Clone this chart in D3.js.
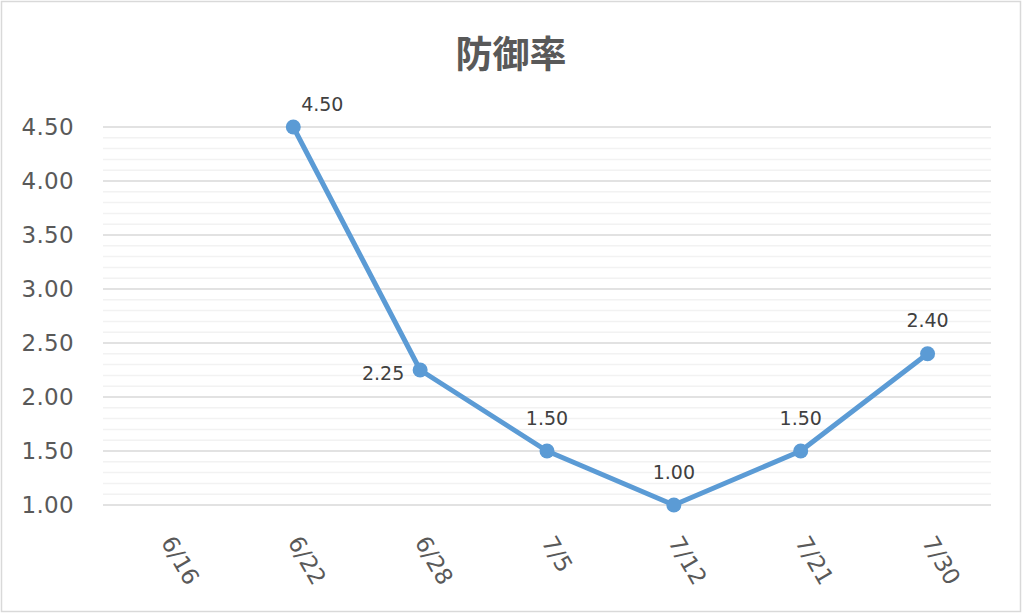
<!DOCTYPE html>
<html>
<head>
<meta charset="utf-8">
<script src="https://cdn.jsdelivr.net/npm/d3@7/dist/d3.min.js"></script>
<style>
  html, body { margin: 0; padding: 0; background: #fff; }
  svg { display: block; }
</style>
</head>
<body>
<svg id="chart" width="1024" height="614"></svg>
<script>
// ---- data ----
const title = "防御率";
const categories = ["6/16", "6/22", "6/28", "7/5", "7/12", "7/21", "7/30"];
const values = [null, 4.50, 2.25, 1.50, 1.00, 1.50, 2.40];
const yTickValues = [1.00, 1.50, 2.00, 2.50, 3.00, 3.50, 4.00, 4.50];
const yDomain = [1.0, 4.5];

// ---- layout ----
const W = 1024, H = 614;
const plot = { left: 103, right: 991, top: 127, bottom: 505 };
const svg = d3.select("#chart");

// chart border
svg.append("rect").attr("x", 1.5).attr("y", 1.5).attr("width", 1019).attr("height", 610)
  .attr("fill", "#fff").attr("stroke", "#d9d9d9").attr("stroke-width", 1.5);

const x = d3.scaleBand().domain(categories).range([plot.left, plot.right]).padding(0);
const y = d3.scaleLinear().domain(yDomain).range([plot.bottom, plot.top]);
const cx = d => x(d) + x.bandwidth() / 2;

// minor gridlines
const minor = y.ticks(35).filter(t => !yTickValues.some(v => Math.abs(v - t) < 1e-9));
svg.append("g").selectAll("line").data(minor).join("line")
  .attr("x1", plot.left).attr("x2", plot.right)
  .attr("y1", d => y(d)).attr("y2", d => y(d))
  .attr("stroke", "#f2f2f2").attr("stroke-width", 1.5);

// major gridlines
svg.append("g").selectAll("line").data(yTickValues).join("line")
  .attr("x1", plot.left).attr("x2", plot.right)
  .attr("y1", d => y(d)).attr("y2", d => y(d))
  .attr("stroke", "#d9d9d9").attr("stroke-width", 1.5);

// y axis labels
const yAxis = d3.axisLeft(y).tickValues(yTickValues).tickFormat(d3.format(".2f")).tickSize(0).tickPadding(0);
const gy = svg.append("g").attr("transform", `translate(74,0)`).call(yAxis);
gy.select(".domain").remove();
gy.selectAll("text")
  .attr("font-family", "DejaVu Sans, sans-serif").attr("font-size", 23)
  .attr("fill", "#595959").attr("letter-spacing", 0.3);

// x axis labels
const xAxis = d3.axisBottom(x).tickSize(0).tickPadding(0);
const gx = svg.append("g").call(xAxis);
gx.select(".domain").remove();
gx.selectAll(".tick").attr("transform", d => `translate(${cx(d) + 1},538)`);
gx.selectAll("text")
  .attr("y", 0).attr("dy", "0.35em")
  .attr("transform", "rotate(60)")
  .attr("text-anchor", "start")
  .attr("font-family", "DejaVu Sans, sans-serif").attr("font-size", 23)
  .attr("fill", "#595959");

// line
const pts = categories.map((c, i) => ({ c, v: values[i] }));
const line = d3.line().defined(d => d.v != null).x(d => cx(d.c)).y(d => y(d.v));
svg.append("path").datum(pts).attr("d", line)
  .attr("fill", "none").attr("stroke", "#5b9bd5").attr("stroke-width", 5)
  .attr("stroke-linejoin", "round");

// markers
svg.append("g").selectAll("circle").data(pts.filter(d => d.v != null)).join("circle")
  .attr("cx", d => cx(d.c)).attr("cy", d => y(d.v)).attr("r", 7.5)
  .attr("fill", "#5b9bd5");

// data labels (placement offsets are styling, keyed by category)
const labelOffset = { "6/22": [29, -23], "6/28": [-37, 3] };
svg.append("g").selectAll("text").data(pts.filter(d => d.v != null)).join("text")
  .attr("x", d => cx(d.c) + (labelOffset[d.c] ? labelOffset[d.c][0] : 0))
  .attr("y", d => y(d.v) + (labelOffset[d.c] ? labelOffset[d.c][1] : -33))
  .attr("dy", "0.35em")
  .attr("text-anchor", "middle")
  .attr("font-family", "DejaVu Sans, sans-serif").attr("font-size", 19)
  .attr("fill", "#404040")
  .text(d => d3.format(".2f")(d.v));

// title
svg.append("text").attr("x", 511).attr("y", 55).attr("dy", "0.35em")
  .attr("text-anchor", "middle")
  .attr("font-family", "Noto Sans CJK JP, sans-serif").attr("font-weight", "bold")
  .attr("font-size", 37).attr("fill", "#595959")
  .text(title);
</script>
</body>
</html>
